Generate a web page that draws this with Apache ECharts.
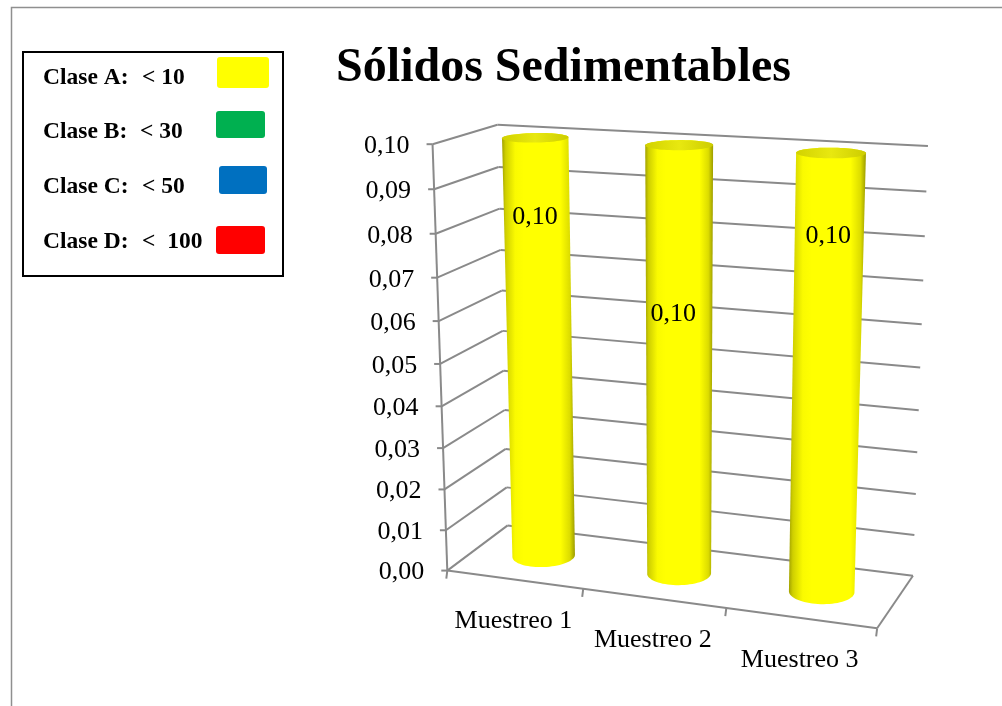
<!DOCTYPE html>
<html>
<head>
<meta charset="utf-8">
<title>Sólidos Sedimentables</title>
<script src="https://cdn.jsdelivr.net/npm/echarts@6/dist/echarts.min.js"></script>
<style>
  html, body { margin: 0; padding: 0; background: #ffffff; }
  #chart { width: 1002px; height: 706px; }
</style>
</head>
<body>
<div id="chart"></div>
<script>
// ---- data ----
const categories = ['Muestreo 1', 'Muestreo 2', 'Muestreo 3'];
const values = [0.10, 0.10, 0.10];
const valueLabels = ['0,10', '0,10', '0,10'];
const yTickValues = [0, 0.01, 0.02, 0.03, 0.04, 0.05, 0.06, 0.07, 0.08, 0.09, 0.10];
const yTickLabels = ['0,00', '0,01', '0,02', '0,03', '0,04', '0,05', '0,06', '0,07', '0,08', '0,09', '0,10'];
const legendNames = ['Clase A:', 'Clase B:', 'Clase C:', 'Clase D:'];
const legendLimits = ['< 10', '< 30', '< 50', '<  100'];
const legendColors = ['#FFFF00', '#00B050', '#0070C0', '#FF0000'];
const titleText = 'Sólidos Sedimentables';

// ---- layout ----
const SERIF = '"Liberation Serif", "Times New Roman", serif';
const GRID_COLOR = '#8a8a8a';
// corners of the plot box in (u: category, v: value, w: depth) -> page position
const boxCorners = [
  [0, 0, 0, 447, 571],
  [0, 0, 1, 508, 525],
  [1, 0, 1, 913, 576],
  [1, 0, 0, 877, 628],
  [0, 1, 0, 433, 144],
  [0, 1, 1, 497, 125],
  [1, 1, 1, 928, 146]
];
const CYL_DEPTH = 0.5;      // cylinder axis position along depth
const CYL_RADIUS_U = 0.215; // radius as share of a category band
const CYL_RADIUS_W = 0.23;  // radius along depth (in box depth units)
const labelLevels = [0.82, 0.62, 0.82]; // where the value text sits along each cylinder
const labelShiftX = [-2, -6, -1];

// perspective camera fitted to the box corners (least squares DLT)
function fitProjection(pts) {
  const N = 11;
  const M = Array.from({ length: N }, () => new Array(N).fill(0));
  const r = new Array(N).fill(0);
  function add(row, rhs) {
    for (let i = 0; i < N; i++) {
      for (let j = 0; j < N; j++) M[i][j] += row[i] * row[j];
      r[i] += row[i] * rhs;
    }
  }
  pts.forEach(([X, Y, Z, x, y]) => {
    add([X, Y, Z, 1, 0, 0, 0, 0, -x * X, -x * Y, -x * Z], x);
    add([0, 0, 0, 0, X, Y, Z, 1, -y * X, -y * Y, -y * Z], y);
  });
  for (let c = 0; c < N; c++) {
    let piv = c;
    for (let k = c + 1; k < N; k++) if (Math.abs(M[k][c]) > Math.abs(M[piv][c])) piv = k;
    [M[c], M[piv]] = [M[piv], M[c]];
    [r[c], r[piv]] = [r[piv], r[c]];
    for (let k = c + 1; k < N; k++) {
      const f = M[k][c] / M[c][c];
      for (let j = c; j < N; j++) M[k][j] -= f * M[c][j];
      r[k] -= f * r[c];
    }
  }
  const p = new Array(N).fill(0);
  for (let c = N - 1; c >= 0; c--) {
    let s = r[c];
    for (let j = c + 1; j < N; j++) s -= M[c][j] * p[j];
    p[c] = s / M[c][c];
  }
  return p;
}
const P = fitProjection(boxCorners);
function proj(u, v, w) {
  const d = P[8] * u + P[9] * v + P[10] * w + 1;
  return [(P[0] * u + P[1] * v + P[2] * w + P[3]) / d,
          (P[4] * u + P[5] * v + P[6] * w + P[7]) / d];
}

function convexHull(points) {
  const pts = points.slice().sort((a, b) => a[0] - b[0] || a[1] - b[1]);
  const cross = (o, a, b) => (a[0] - o[0]) * (b[1] - o[1]) - (a[1] - o[1]) * (b[0] - o[0]);
  const lower = [];
  for (const p of pts) {
    while (lower.length >= 2 && cross(lower[lower.length - 2], lower[lower.length - 1], p) <= 0) lower.pop();
    lower.push(p);
  }
  const upper = [];
  for (let i = pts.length - 1; i >= 0; i--) {
    const p = pts[i];
    while (upper.length >= 2 && cross(upper[upper.length - 2], upper[upper.length - 1], p) <= 0) upper.pop();
    upper.push(p);
  }
  upper.pop(); lower.pop();
  return lower.concat(upper);
}

function line(a, b, w) {
  return {
    type: 'line',
    shape: { x1: a[0], y1: a[1], x2: b[0], y2: b[1] },
    style: { stroke: GRID_COLOR, lineWidth: w || 2 }
  };
}

function normalizer(cs) {
  return {
    u: px => (px - cs.x) / cs.width,
    v: py => (cs.y + cs.height - py) / cs.height
  };
}

// walls, floor, axes, ticks and tick labels
function renderFrame(params, api) {
  const cs = params.coordSys;
  const n = normalizer(cs);
  const band = api.size([1, 0])[0];
  const children = [];
  yTickValues.forEach((val, k) => {
    const v = n.v(api.coord([0, val])[1]);
    const front = proj(0, v, 0), back = proj(0, v, 1), right = proj(1, v, 1);
    children.push(line(front, back));
    children.push(line(back, right));
    children.push(line([front[0] - 6, front[1]], front));
    children.push({
      type: 'text',
      style: {
        text: yTickLabels[k], x: front[0] - 23, y: front[1] + 2,
        align: 'right', verticalAlign: 'middle',
        font: '26px ' + SERIF, fill: '#000'
      }
    });
  });
  // value axis line, floor edges
  children.push(line(proj(0, 0, 0), proj(0, 1, 0)));
  children.push(line(proj(0, 0, 0), proj(1, 0, 0)));
  children.push(line(proj(1, 0, 0), proj(1, 0, 1)));
  // category ticks and labels
  for (let k = 0; k <= categories.length; k++) {
    const u = n.u(api.coord([k, 0])[0] - band / 2);
    const p = proj(u, 0, 0);
    children.push(line(p, [p[0] - 1, p[1] + 8]));
  }
  categories.forEach((name, k) => {
    const u = n.u(api.coord([k, 0])[0]);
    const p = proj(u, 0, 0);
    children.push({
      type: 'text',
      style: {
        text: name, x: p[0] - 1, y: p[1] + 42,
        align: 'center', verticalAlign: 'middle',
        font: '26px ' + SERIF, fill: '#000'
      }
    });
  });
  return { type: 'group', children };
}

// one yellow cylinder per sample
function renderCylinder(params, api) {
  const cs = params.coordSys;
  const n = normalizer(cs);
  const idx = api.value(0);
  const val = api.value(1);
  const band = api.size([1, 0])[0];
  const uc = n.u(api.coord([idx, 0])[0]);
  const vb = n.v(api.coord([idx, 0])[1]);
  const vt = n.v(api.coord([idx, val])[1]);
  const ru = CYL_RADIUS_U * band / cs.width;
  const rw = CYL_RADIUS_W;
  const bottom = [], top = [];
  const STEPS = 72;
  for (let s = 0; s < STEPS; s++) {
    const t = s / STEPS * Math.PI * 2;
    const u = uc + ru * Math.cos(t), w = CYL_DEPTH + rw * Math.sin(t);
    bottom.push(proj(u, vb, w));
    top.push(proj(u, vt, w));
  }
  const hull = convexHull(bottom.concat(top));
  const lp = proj(uc, vb + (vt - vb) * labelLevels[idx], CYL_DEPTH);
  return {
    type: 'group',
    children: [
      {
        type: 'polygon',
        shape: { points: hull },
        style: {
          fill: new echarts.graphic.LinearGradient(0, 0, 1, 0, [
            { offset: 0, color: '#A2A200' },
            { offset: 0.05, color: '#CFCF00' },
            { offset: 0.18, color: '#FAFA00' },
            { offset: 0.3, color: '#FFFF00' },
            { offset: 0.8, color: '#FFFF00' },
            { offset: 0.93, color: '#DCDC00' },
            { offset: 1, color: '#9C9C00' }
          ])
        }
      },
      {
        type: 'polygon',
        shape: { points: top },
        style: {
          fill: new echarts.graphic.LinearGradient(0, 0, 1, 0, [
            { offset: 0, color: '#D2D200' },
            { offset: 0.5, color: '#E8E810' },
            { offset: 1, color: '#CDCD00' }
          ])
        }
      },
      {
        type: 'text',
        style: {
          text: valueLabels[idx], x: lp[0] + labelShiftX[idx], y: lp[1],
          align: 'center', verticalAlign: 'middle',
          font: '26px ' + SERIF, fill: '#000'
        }
      }
    ]
  };
}

// legend box
const legendGraphics = [
  { type: 'rect', shape: { x: 23, y: 52, width: 260, height: 224 },
    style: { fill: '#fff', stroke: '#000', lineWidth: 2 } }
];
const legendRows = [78, 132, 187, 242];
const legendSwatches = [[217, 57, 52, 31], [216, 111, 49, 27], [219, 166, 48, 28], [216, 226, 49, 28]];
const legendLimitX = [142, 140, 142, 142];
legendNames.forEach((name, k) => {
  legendGraphics.push({
    type: 'text', x: 43, y: legendRows[k],
    style: { text: name, font: 'bold 23.5px ' + SERIF, fill: '#000', verticalAlign: 'middle' }
  });
  legendGraphics.push({
    type: 'text', x: legendLimitX[k], y: legendRows[k],
    style: { text: legendLimits[k], font: 'bold 23.5px ' + SERIF, fill: '#000', verticalAlign: 'middle' }
  });
  const s = legendSwatches[k];
  legendGraphics.push({
    type: 'rect', shape: { x: s[0], y: s[1], width: s[2], height: s[3], r: 3 },
    style: { fill: legendColors[k] }
  });
});

const chart = echarts.init(document.getElementById('chart'), null, { renderer: 'canvas' });
chart.setOption({
  animation: false,
  backgroundColor: '#ffffff',
  graphic: [
    { type: 'rect', shape: { x: 11.5, y: 7.5, width: 1200, height: 900 },
      style: { fill: 'none', stroke: '#8f8f8f', lineWidth: 1.5 }, z: -10 },
    { type: 'text', x: 563.5, y: 68.5,
      style: { text: titleText, font: 'bold 48px ' + SERIF, fill: '#000',
               align: 'center', verticalAlign: 'middle' } },
    { type: 'group', children: legendGraphics }
  ],
  grid: { left: 447, top: 144, width: 430, height: 427 },
  xAxis: { type: 'category', data: categories, show: false, boundaryGap: true },
  yAxis: { type: 'value', min: 0, max: 0.1, interval: 0.01, show: false },
  series: [
    {
      type: 'custom', z: 1, clip: false, silent: true,
      renderItem: renderFrame,
      data: [[0, 0]]
    },
    {
      type: 'custom', z: 2, clip: false, silent: true,
      renderItem: renderCylinder,
      data: values.map((v, i) => [i, v])
    }
  ]
});
</script>
</body>
</html>
